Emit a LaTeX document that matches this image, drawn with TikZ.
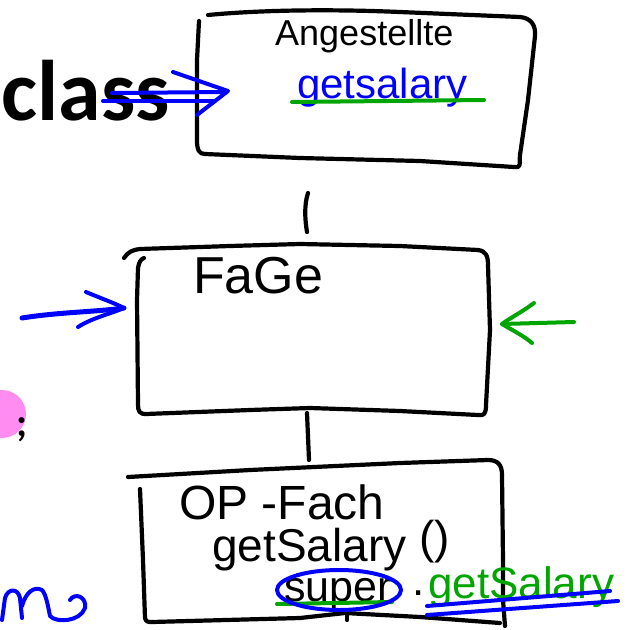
\documentclass[tikz,border=0pt]{standalone}
\usepackage{fontspec}
\setmainfont{Liberation Sans}
\newfontfamily\slidefont{Carlito}
\definecolor{penblue}{RGB}{0,0,255}
\definecolor{pengreen}{RGB}{0,165,0}
\definecolor{pinkc}{RGB}{255,140,240}
\begin{document}
\begin{tikzpicture}[x=1pt,y=-1pt,line cap=round,line join=round,
  pen/.style={line width=4.2pt,black},
  bluepen/.style={line width=4pt,penblue},
  greenpen/.style={line width=4pt,pengreen},
  hand/.style={inner sep=0pt,anchor=base west}]
\useasboundingbox (0,0) rectangle (629,630);

% slide remnants
\node[inner sep=0pt,anchor=base east,font=\slidefont\bfseries\fontsize{86}{86}\selectfont] (cls) at (170,120) {class};
\fill[pinkc] (2,414) circle (24pt);
\node[inner sep=0pt,anchor=base west,font=\slidefont\bfseries\fontsize{40}{40}\selectfont] (semi) at (16,436) {;};

% top box: Angestellte
\draw[pen] (208,15) .. controls (260,10) and (330,9) .. (400,12) -- (520,17)
  .. controls (530,18) and (536,24) .. (535,36) -- (528,100) -- (520,155)
  .. controls (519,164) and (522,168) .. (514,167) -- (420,161) -- (300,158) -- (205,154)
  .. controls (199,154) and (197,150) .. (197,140) -- (197,60) -- (199,21);
\node[hand,font=\fontsize{36}{36}\selectfont] (ang) at (275,45) {Angestellte};
\node[hand,font=\fontsize{42}{42}\selectfont,text=penblue] (gs1) at (297,98) {getsalary};
\coordinate (u1a) at (292,102);
\coordinate (u1b) at (484,100);
\draw[greenpen] (u1a) -- (u1b);

% double arrow into top box
\coordinate (da1) at (112,93); \coordinate (da1e) at (222,92);
\coordinate (da2) at (103,101); \coordinate (da2e) at (215,101);
\coordinate (dtip) at (228,91);
\draw[bluepen] (da1) -- (da1e);
\draw[bluepen] (da2) -- (da2e);
\draw[bluepen] (173,72) -- (dtip) -- (197,115);

% connector top -> middle (free stroke)
\coordinate (k1a) at (308,193);
\coordinate (k1b) at (307,232);
\draw[pen] (k1a) .. controls (304,205) and (305,220) .. (k1b);

% middle box: FaGe
\draw[pen] (124,258) .. controls (128,252) and (132,250) .. (140,249) -- (230,246) -- (300,244) -- (400,246) -- (478,250)
  .. controls (486,251) and (488,256) .. (488,265) -- (490,330) -- (486,405)
  .. controls (486,414) and (484,416) .. (478,415) -- (400,411) -- (310,408) -- (250,410) -- (146,414)
  .. controls (139,414) and (138,411) .. (138,404) -- (137,300) -- (138,268) .. controls (139,262) and (141,259) .. (144,258);
\node[hand,font=\fontsize{52}{52}\selectfont] (fage) at (193,293) {FaGe};

% blue arrow into middle box
\coordinate (ba0) at (22,318);
\coordinate (ba1) at (124,308);
\draw[bluepen,line width=5pt] (ba0) .. controls (60,312) and (95,312) .. (ba1);
\draw[bluepen] (86,292) .. controls (100,298) and (112,302) .. (ba1) .. controls (110,314) and (92,318) .. (78,327);

% green arrow into middle box
\coordinate (ga0) at (574,322);
\coordinate (ga1) at (502,324);
\draw[greenpen] (ga0) -- (ga1);
\draw[greenpen] (534,303) .. controls (522,312) and (510,318) .. (ga1) .. controls (512,330) and (524,336) .. (532,343);

% connector middle -> bottom
\coordinate (k2a) at (307,413);
\coordinate (k2b) at (309,460);
\draw[pen] (k2a) -- (k2b);
\draw[pen] (347,611) -- (347,620);

% bottom box: OP-Fach
\draw[pen] (128,477) -- (250,470) -- (400,463) -- (488,460)
  .. controls (498,460) and (502,465) .. (502,475) -- (503,560) -- (503,600) -- (505,626);
\draw[pen] (140,489) -- (143,560) -- (145,618) .. controls (146,622) and (148,622) .. (152,622)
  -- (300,618) -- (345,613) -- (420,617) -- (500,623);
\node[hand,font=\fontsize{48}{48}\selectfont] (op) at (179,519) {OP -Fach};
\node[hand,font=\fontsize{46}{46}\selectfont] (gsb) at (212,561) {getSalary \raisebox{8pt}{()}};
\node[hand,font=\fontsize{43}{43}\selectfont] (sup) at (284,601) {super};
\draw[greenpen] (277,604) -- (392,602);
\draw[bluepen] (339,590) ellipse [x radius=62pt,y radius=20pt];
\node[hand,font=\fontsize{44}{44}\selectfont] (dot) at (412,595) {.};
\node[hand,font=\fontsize{44}{44}\selectfont,text=pengreen] (gsg) at (428,598) {getSalary};
\draw[bluepen] (427,606) -- (610,591);
\draw[bluepen] (427,615) -- (618,601);

% blue squiggle bottom left
\draw[bluepen] (2,620) -- (5,598) .. controls (8,588) and (18,588) .. (20,598) -- (22,618)
  (22,606) .. controls (26,592) and (34,586) .. (42,590) .. controls (46,594) and (48,606) .. (50,616)
  .. controls (56,623) and (80,622) .. (85,608) .. controls (87,597) and (75,592) .. (70,600);
\end{tikzpicture}
\end{document}
